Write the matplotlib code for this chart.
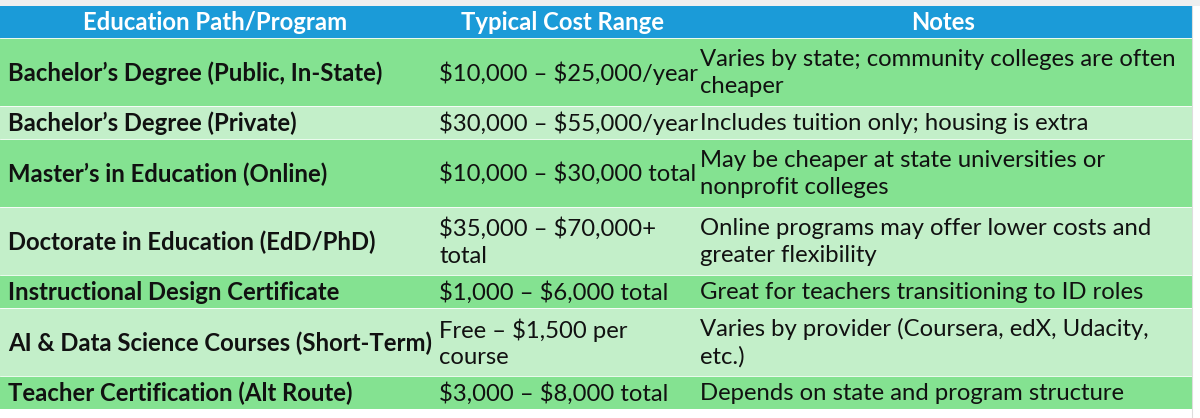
import matplotlib
matplotlib.use("Agg")
import matplotlib.pyplot as plt
from matplotlib.patches import Rectangle
plt.rcParams['text.parse_math'] = False

headers = ["Education Path/Program", "Typical Cost Range", "Notes"]
programs = ["Bachelor\u2019s Degree (Public, In-State)", "Bachelor\u2019s Degree (Private)",
            "Master\u2019s in Education (Online)", "Doctorate in Education (EdD/PhD)",
            "Instructional Design Certificate", "AI & Data Science Courses (Short-Term)",
            "Teacher Certification (Alt Route)"]
costs = ["$10,000 \u2013 $25,000/year", "$30,000 \u2013 $55,000/year",
         "$10,000 \u2013 $30,000 total", "$35,000 \u2013 $70,000+\ntotal",
         "$1,000 \u2013 $6,000 total", "Free \u2013 $1,500 per\ncourse",
         "$3,000 \u2013 $8,000 total"]
notes = ["Varies by state; community colleges are often\ncheaper",
         "Includes tuition only; housing is extra",
         "May be cheaper at state universities or\nnonprofit colleges",
         "Online programs may offer lower costs and\ngreater flexibility",
         "Great for teachers transitioning to ID roles",
         "Varies by provider (Coursera, edX, Udacity,\netc.)",
         "Depends on state and program structure"]

FONT = ["Lato", "DejaVu Sans"]
FS = 17.2
fig = plt.figure(figsize=(12, 4.18), dpi=100)
ax = fig.add_axes([0, 0, 1, 1])
ax.set_xlim(0, 1200); ax.set_ylim(418, 0); ax.axis("off")
fig.patch.set_facecolor("white")

ax.add_patch(Rectangle((0, 0), 1200, 6, color="#efefef", lw=0))
col_x = [0, 431, 694, 1192]
HDR = "#1b9bd8"; DARK = "#84e291"; LIGHT = "#c3efc9"

top = 6
ax.add_patch(Rectangle((0, top), col_x[-1], 32, color=HDR, lw=0))
for i, h in enumerate(headers):
    ax.text((col_x[i] + col_x[i+1]) / 2, top + 17, h, ha="center", va="center",
            color="white", fontsize=FS, fontweight="bold", family=FONT)
y = top + 32
for r in range(len(programs)):
    nl = max(costs[r].count("\n"), notes[r].count("\n")) + 1
    h = 33 if nl == 1 else 68
    ax.add_patch(Rectangle((0, y), col_x[-1], h, color=DARK if r % 2 == 0 else LIGHT, lw=0))
    ax.plot([0, col_x[-1]], [y, y], color="white", lw=0.6)
    ax.text(8, y + h / 2 + 1, programs[r], ha="left", va="center", fontsize=FS,
            fontweight="bold", family=FONT, color="#111111")
    ax.text(col_x[1] + 8, y + h / 2 + 1, costs[r], ha="left", va="center", fontsize=FS,
            family=FONT, color="#111111", linespacing=1.32)
    ax.text(col_x[2] + 6, y + h / 2 + 1, notes[r], ha="left", va="center", fontsize=FS,
            family=FONT, color="#111111", linespacing=1.32)
    y += h
ax.plot([col_x[-1], col_x[-1]], [top, 418], color="#dddddd", lw=0.8)
fig.savefig("out.png", dpi=100)
